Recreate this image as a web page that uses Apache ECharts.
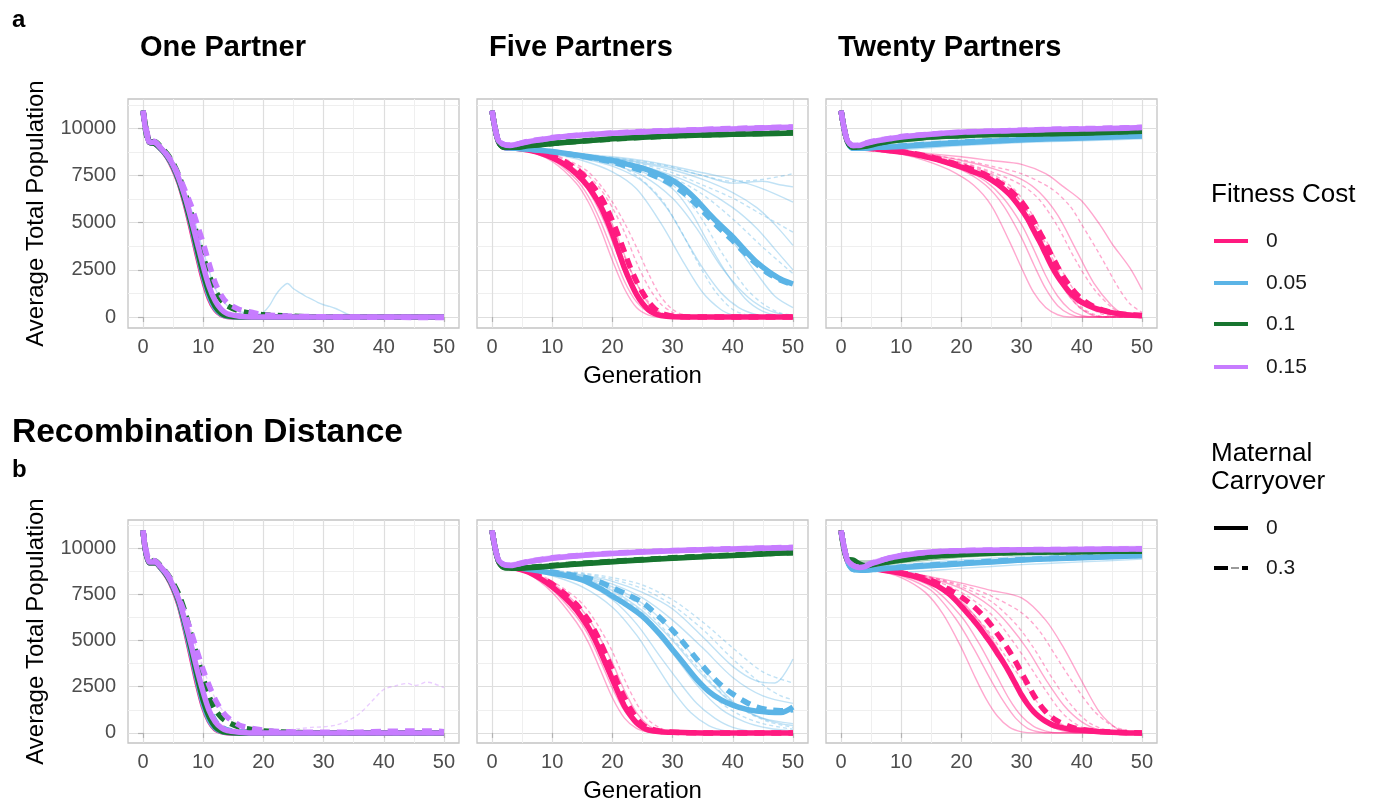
<!DOCTYPE html>
<html>
<head>
<meta charset="utf-8">
<script src="https://cdn.jsdelivr.net/npm/echarts@6/dist/echarts.min.js"></script>
<style>
html,body{margin:0;padding:0;background:#fff;}
#chart{width:1376px;height:805px;}
</style>
</head>
<body>
<div id="chart"></div>
<script>
// ---------- tick labels / categories ----------
const GEN_TICKS = [0, 10, 20, 30, 40, 50];
const GEN_MINOR = [5, 15, 25, 35, 45];
const POP_TICKS = [0, 2500, 5000, 7500, 10000];
const POP_MINOR = [1250, 3750, 6250, 8750, 11250];
const COLUMN_TITLES = ['One Partner', 'Five Partners', 'Twenty Partners'];
const FITNESS_COSTS = ['0', '0.05', '0.1', '0.15'];
const CARRYOVERS = ['0', '0.3'];

// ---------- a: One Partner (means, [generation, population]) ----------
const A1_PINK_C0 = [[0,10950],[1,9300],[2,9200],[3,8900],[4,8500],[5,7900],[6,7100],[7,6000],[8,4700],[9,3300],[10,2000],[11,1000],[12,400],[13,120],[14,30],[16,0],[50,0]];
const A1_PINK_C3 = [[0,10950],[1,9300],[2,9200],[3,8950],[4,8550],[5,8000],[6,7250],[7,6250],[8,5000],[9,3700],[10,2400],[11,1300],[12,600],[13,250],[14,100],[16,20],[18,0],[50,0]];
const A1_BLUE_C0 = [[0,10950],[1,9300],[2,9200],[3,8900],[4,8520],[5,7950],[6,7150],[7,6100],[8,4850],[9,3450],[10,2150],[11,1100],[12,450],[13,150],[14,40],[16,0],[50,0]];
const A1_BLUE_C3 = [[0,10950],[1,9300],[2,9250],[3,8950],[4,8580],[5,8050],[6,7300],[7,6300],[8,5100],[9,3800],[10,2500],[11,1400],[12,700],[13,300],[14,130],[16,40],[20,0],[50,0]];
const A1_GREEN_C0 = [[0,10950],[1,9300],[2,9200],[3,8920],[4,8540],[5,8000],[6,7200],[7,6150],[8,4950],[9,3600],[10,2300],[11,1250],[12,550],[13,200],[14,60],[16,10],[18,0],[50,0]];
const A1_GREEN_C3 = [[0,10950],[1,9300],[2,9300],[3,9000],[4,8650],[5,8150],[6,7450],[7,6550],[8,5500],[9,4300],[10,3200],[11,2200],[12,1400],[13,900],[14,600],[16,320],[18,200],[20,120],[24,50],[30,0],[50,0]];
const A1_PURPLE_C0 = [[0,10950],[1,9300],[2,9250],[3,8950],[4,8580],[5,8050],[6,7300],[7,6350],[8,5200],[9,3950],[10,2700],[11,1600],[12,850],[13,400],[14,170],[16,40],[18,0],[50,0]];
const A1_PURPLE_C3 = [[0,10950],[1,9400],[2,9300],[3,8950],[4,8600],[5,8100],[6,7450],[7,6700],[8,5900],[9,4900],[10,3900],[11,2800],[12,1800],[13,1150],[14,750],[16,400],[18,250],[20,120],[24,50],[30,10],[50,-30]];
const A1_BLUE_C0_REPS = [
  [[2,9200],[4,8600],[6,7400],[8,5700],[10,3500],[12,1500],[14,600],[16,300],[18,180],[19,150],[20,250],[21,600],[22,1150],[23,1550],[24,1780],[25,1500],[26,1300],[27,1100],[28,950],[29,780],[30,650],[31,560],[32,450],[33,300],[34,150],[35,50],[36,0],[50,0]]
];

// ---------- a: Five Partners ----------
const A2_PINK_C0 = [[0,10950],[1,9350],[2,9000],[4,8950],[6,8850],[8,8700],[10,8450],[12,8100],[14,7600],[16,6900],[18,5900],[19,5200],[20,4400],[21,3500],[22,2600],[23,1850],[24,1200],[25,720],[26,380],[27,180],[28,80],[30,15],[34,0],[50,0]];
const A2_PINK_C3 = [[0,10950],[1,9350],[2,9000],[4,8960],[6,8880],[8,8750],[10,8550],[12,8250],[14,7850],[16,7250],[18,6400],[19,5800],[20,5100],[21,4300],[22,3450],[23,2600],[24,1900],[25,1300],[26,800],[27,450],[28,230],[29,110],[30,50],[32,10],[35,0],[50,0]];
const A2_BLUE_C0 = [[0,10950],[1,9350],[2,9000],[4,8950],[6,8900],[8,8850],[10,8780],[14,8600],[18,8400],[20,8300],[22,8150],[25,7900],[28,7550],[30,7250],[32,6800],[34,6200],[36,5500],[38,4850],[40,4250],[42,3550],[44,2900],[46,2400],[48,2000],[50,1750]];
const A2_BLUE_C3 = [[0,10950],[1,9350],[2,9000],[4,8950],[6,8900],[8,8840],[10,8760],[14,8580],[18,8350],[20,8230],[22,8050],[25,7750],[28,7350],[30,7000],[32,6550],[34,5950],[36,5300],[38,4650],[40,4050],[42,3400],[44,2800],[46,2300],[48,1950],[50,1700]];
const A2_GREEN_C0 = [[0,10950],[1,9350],[2,9000],[4,9000],[6,9080],[10,9200],[15,9330],[20,9450],[25,9540],[30,9600],[35,9650],[40,9690],[45,9720],[50,9760]];
const A2_GREEN_C3 = [[0,10950],[1,9350],[2,9000],[4,9010],[6,9090],[10,9210],[15,9340],[20,9440],[25,9530],[30,9610],[35,9660],[40,9700],[45,9740],[50,9780]];
const A2_PURPLE_C0 = [[0,10950],[1,9400],[2,9150],[3,9100],[4,9150],[6,9300],[8,9400],[10,9500],[15,9650],[20,9750],[25,9820],[30,9880],[35,9930],[40,9980],[45,10030],[50,10070]];
const A2_PURPLE_C3 = [[0,10950],[1,9400],[2,9150],[3,9120],[4,9170],[6,9320],[8,9420],[10,9520],[15,9660],[20,9760],[25,9840],[30,9900],[35,9950],[40,10000],[45,10040],[50,10080]];
const A2_PINK_C0_REPS = [
  [[2,9000],[6,8800],[10,8250],[14,7100],[16,6100],[18,4700],[20,3000],[22,1500],[24,500],[26,100],[28,0],[50,0]],
  [[2,9000],[6,8880],[10,8500],[14,7800],[16,7100],[18,6100],[20,4900],[22,3300],[24,1800],[26,700],[28,200],[30,30],[32,0],[50,0]],
  [[2,9000],[6,8850],[10,8400],[14,7500],[16,6700],[18,5500],[20,4000],[22,2400],[24,1100],[26,400],[28,100],[30,0],[50,0]],
  [[2,9000],[6,8820],[10,8350],[14,7300],[16,6400],[18,5100],[20,3500],[22,1900],[24,800],[26,250],[28,50],[30,0],[50,0]]
];
const A2_PINK_C3_REPS = [
  [[2,9000],[6,8900],[10,8600],[14,8000],[16,7500],[18,6800],[20,5800],[22,4500],[24,2900],[26,1600],[28,700],[30,250],[32,50],[34,0],[50,0]],
  [[2,9000],[6,8880],[10,8500],[14,7700],[16,7000],[18,6000],[20,4700],[22,3200],[24,1800],[26,800],[28,250],[30,60],[32,0],[50,0]],
  [[2,9000],[6,8920],[10,8650],[14,8100],[16,7700],[18,7000],[20,6100],[22,5000],[24,3700],[26,2300],[28,1100],[30,400],[32,100],[34,0],[50,0]]
];
const A2_BLUE_C0_REPS = [
  [[2,9000],[6,8850],[10,8650],[15,8300],[20,7700],[24,6800],[28,5000],[32,2800],[35,1300],[38,400],[40,100],[42,0],[50,0]],
  [[2,9000],[6,8900],[10,8750],[15,8450],[20,8100],[25,7500],[30,6300],[34,4700],[38,2700],[42,1200],[45,500],[48,150],[50,50]],
  [[2,9000],[6,8920],[10,8800],[15,8600],[20,8450],[25,8200],[30,7900],[35,7500],[40,7100],[45,7200],[48,7000],[50,6900]],
  [[2,9000],[6,8900],[10,8780],[15,8550],[20,8350],[25,8000],[30,7500],[35,6800],[40,5800],[44,4700],[47,3600],[50,2500]],
  [[2,9000],[6,8880],[10,8700],[15,8450],[20,8200],[25,7700],[30,6800],[33,5600],[36,3900],[39,2300],[42,1000],[45,300],[48,50],[50,0]],
  [[2,9000],[6,8920],[10,8800],[15,8600],[20,8400],[25,8150],[30,7800],[35,7300],[40,6600],[44,5800],[47,4900],[50,3800]],
  [[2,9000],[6,8900],[10,8760],[15,8500],[20,8250],[25,7850],[30,7100],[35,5800],[40,4000],[44,2300],[47,1100],[50,500]],
  [[2,9000],[6,8850],[10,8700],[15,8400],[20,8000],[25,7200],[29,5800],[32,4200],[35,2600],[38,1300],[41,500],[44,120],[47,0],[50,0]],
  [[2,9000],[6,8930],[10,8820],[15,8650],[20,8500],[25,8300],[30,8000],[35,7650],[40,7300],[45,6800],[50,6100]]
];
const A2_BLUE_C3_REPS = [
  [[2,9000],[6,8900],[10,8750],[15,8500],[20,8300],[25,7850],[30,7000],[34,5600],[38,3500],[42,1600],[45,700],[48,200],[50,100]],
  [[2,9000],[6,8930],[10,8820],[15,8650],[20,8450],[25,8250],[30,7950],[35,7500],[40,7200],[45,7300],[50,7600]],
  [[2,9000],[6,8870],[10,8700],[15,8400],[20,8150],[24,7500],[28,6300],[31,4800],[34,3000],[37,1400],[40,400],[43,50],[45,0],[50,0]],
  [[2,9000],[6,8900],[10,8770],[15,8550],[20,8350],[25,8000],[30,7400],[35,6500],[40,5200],[45,3700],[50,2300]],
  [[2,9000],[6,8910],[10,8790],[15,8600],[20,8400],[25,8100],[30,7650],[35,7000],[40,6300],[45,5400],[50,4500]]
];
const A2_GREEN_C0_REPS = [
  [[2,9000],[6,9000],[10,9100],[15,9250],[20,9380],[25,9470],[30,9530],[35,9600],[40,9640],[45,9680],[50,9700]],
  [[2,9000],[6,9150],[10,9280],[15,9420],[20,9530],[25,9620],[30,9680],[35,9720],[40,9760],[45,9800],[50,9840]]
];
const A2_PURPLE_C0_REPS = [
  [[2,9150],[6,9380],[10,9600],[15,9750],[20,9850],[25,9920],[30,9970],[35,10020],[40,10060],[45,10120],[50,10160]],
  [[2,9150],[6,9220],[10,9420],[15,9560],[20,9660],[25,9740],[30,9800],[35,9860],[40,9900],[45,9950],[50,9990]]
];

// ---------- a: Twenty Partners ----------
const A3_PINK_C0 = [[0,10950],[1,9350],[2,9000],[4,8950],[6,8900],[8,8820],[10,8750],[12,8650],[14,8500],[16,8350],[18,8150],[20,7950],[22,7700],[24,7450],[26,7050],[28,6500],[30,5700],[31,5200],[32,4600],[33,4000],[34,3350],[35,2700],[36,2150],[37,1700],[38,1300],[39,1000],[40,780],[42,480],[44,300],[46,180],[48,110],[50,70]];
const A3_PINK_C3 = [[0,10950],[1,9350],[2,9000],[4,8960],[6,8910],[8,8840],[10,8770],[12,8680],[14,8550],[16,8400],[18,8220],[20,8020],[22,7800],[24,7550],[26,7200],[28,6750],[30,6100],[31,5650],[32,5100],[33,4500],[34,3900],[35,3250],[36,2650],[37,2100],[38,1650],[39,1250],[40,950],[42,550],[44,320],[46,190],[48,120],[50,80]];
const A3_BLUE_C0 = [[0,10950],[1,9350],[2,8950],[4,8950],[6,9000],[10,9050],[15,9150],[20,9250],[25,9320],[30,9400],[35,9450],[40,9500],[45,9550],[50,9600]];
const A3_BLUE_C3 = [[0,10950],[1,9350],[2,8950],[4,8960],[6,9010],[10,9070],[15,9170],[20,9270],[25,9350],[30,9420],[35,9480],[40,9530],[45,9580],[50,9630]];
const A3_GREEN_C0 = [[0,10950],[1,9350],[2,9000],[4,9050],[6,9200],[8,9320],[10,9400],[15,9550],[20,9620],[25,9680],[30,9700],[35,9720],[40,9750],[45,9800],[50,9850]];
const A3_GREEN_C3 = [[0,10950],[1,9350],[2,9000],[4,9070],[6,9220],[8,9340],[10,9420],[15,9560],[20,9640],[25,9690],[30,9720],[35,9740],[40,9770],[45,9820],[50,9870]];
const A3_PURPLE_C0 = [[0,10950],[1,9400],[2,9100],[3,9100],[4,9200],[6,9350],[8,9450],[10,9550],[15,9700],[20,9800],[25,9850],[30,9900],[35,9950],[40,9980],[45,10000],[50,10050]];
const A3_PURPLE_C3 = [[0,10950],[1,9400],[2,9100],[3,9120],[4,9220],[6,9370],[8,9470],[10,9570],[15,9710],[20,9810],[25,9860],[30,9910],[35,9960],[40,9990],[45,10020],[50,10060]];
const A3_PINK_C0_REPS = [
  [[2,9000],[6,8850],[10,8650],[14,8300],[18,7800],[22,7000],[25,5900],[28,4000],[30,2600],[32,1300],[34,500],[36,120],[38,0],[50,0]],
  [[2,9000],[6,8880],[10,8700],[15,8350],[20,7800],[24,7000],[27,5900],[30,4200],[32,2800],[34,1500],[36,600],[38,150],[40,0],[50,0]],
  [[2,9000],[6,8900],[10,8750],[15,8450],[20,8000],[25,7300],[29,6100],[32,4700],[35,2700],[37,1500],[39,700],[41,200],[43,0],[50,0]],
  [[2,9000],[6,8920],[10,8800],[15,8600],[20,8300],[25,7900],[30,7300],[33,6600],[36,5400],[39,3600],[42,1800],[45,600],[47,150],[49,0],[50,0]],
  [[2,9000],[6,8930],[10,8800],[20,8500],[25,8300],[30,8100],[34,7600],[37,6900],[40,6150],[43,4900],[45,3900],[48,2600],[50,1450]],
  [[2,9000],[6,8870],[10,8720],[15,8400],[20,7900],[24,7200],[27,6300],[30,4900],[32,3600],[34,2200],[36,1100],[38,400],[40,80],[42,0],[50,0]]
];
const A3_PINK_C3_REPS = [
  [[2,9000],[6,8900],[10,8750],[20,8050],[25,7400],[28,6800],[31,5600],[34,3900],[36,2500],[38,1300],[40,500],[42,150],[44,0],[50,0]],
  [[2,9000],[6,8920],[10,8800],[20,8200],[25,7700],[30,7000],[33,6200],[36,4800],[39,3000],[42,1500],[45,500],[47,150],[50,50]],
  [[2,9000],[6,8910],[10,8780],[20,8150],[25,7600],[29,6700],[32,5300],[35,3500],[37,2300],[39,1300],[41,600],[43,200],[45,50],[50,0]],
  [[2,9000],[6,8930],[10,8820],[20,8350],[25,8000],[30,7600],[35,6800],[38,5900],[40,4900],[43,3300],[46,1600],[48,700],[50,250]],
  [[2,9000],[6,8880],[10,8740],[20,8100],[25,7500],[29,6500],[32,5000],[34,3700],[36,2300],[38,1100],[40,400],[42,100],[44,0],[50,0]]
];
const A3_BLUE_C0_REPS = [
  [[2,8950],[10,8900],[20,9100],[30,9250],[40,9350],[50,9450]],
  [[2,8950],[10,9200],[20,9400],[30,9550],[40,9650],[50,9750]],
  [[2,8950],[10,9000],[20,9180],[30,9320],[40,9420],[50,9520]]
];
const A3_GREEN_C0_REPS = [
  [[2,9000],[6,9300],[10,9500],[20,9720],[30,9800],[40,9850],[50,9950]],
  [[2,9000],[6,9100],[10,9300],[20,9520],[30,9600],[40,9650],[50,9750]]
];
const A3_PURPLE_C0_REPS = [
  [[2,9100],[6,9450],[10,9650],[20,9900],[30,10000],[40,10080],[50,10150]],
  [[2,9100],[6,9250],[10,9450],[20,9700],[30,9800],[40,9880],[50,9950]]
];

// ---------- b: One Partner ----------
const B1_PINK_C0 = [[0,10950],[1,9200],[2,9200],[3,8900],[4,8450],[5,7800],[6,6900],[7,5600],[8,4150],[9,2700],[10,1450],[11,650],[12,220],[13,70],[14,15],[16,0],[50,0]];
const B1_PINK_C3 = [[0,10950],[1,9250],[2,9250],[3,8950],[4,8550],[5,7950],[6,7250],[7,6150],[8,4850],[9,3500],[10,2200],[11,1200],[12,600],[13,300],[14,150],[16,60],[20,20],[24,0],[50,0]];
const B1_BLUE_C0 = [[0,10950],[1,9200],[2,9200],[3,8900],[4,8480],[5,7850],[6,6980],[7,5700],[8,4300],[9,2850],[10,1550],[11,700],[12,250],[13,80],[14,20],[16,0],[50,0]];
const B1_BLUE_C3 = [[0,10950],[1,9250],[2,9250],[3,8950],[4,8570],[5,8000],[6,7300],[7,6250],[8,5000],[9,3650],[10,2350],[11,1300],[12,650],[13,320],[14,160],[16,70],[20,20],[24,0],[50,0]];
const B1_GREEN_C0 = [[0,10950],[1,9200],[2,9200],[3,8920],[4,8500],[5,7900],[6,7050],[7,5850],[8,4500],[9,3050],[10,1750],[11,850],[12,330],[13,110],[14,30],[16,0],[50,0]];
const B1_GREEN_C3 = [[0,10950],[1,9300],[2,9300],[3,9000],[4,8620],[5,8100],[6,7450],[7,6500],[8,5300],[9,4100],[10,2950],[11,1950],[12,1250],[13,850],[14,600],[16,320],[18,190],[20,110],[24,40],[30,0],[50,0]];
const B1_PURPLE_C0 = [[0,10950],[1,9250],[2,9250],[3,8950],[4,8550],[5,7950],[6,7150],[7,6000],[8,4750],[9,3400],[10,2200],[11,1200],[12,600],[13,280],[14,120],[16,40],[18,0],[50,0]];
const B1_PURPLE_C3 = [[0,10950],[1,9350],[2,9300],[3,8950],[4,8600],[5,8000],[6,7250],[7,6400],[8,5450],[9,4400],[10,3400],[11,2550],[12,1800],[13,1250],[14,850],[16,420],[18,250],[20,150],[24,60],[30,30],[36,40],[40,80],[44,100],[48,110],[50,60]];
const B1_PURPLE_C3_REPS = [
  [[2,9300],[4,8600],[6,7300],[8,5500],[10,3500],[12,1850],[14,900],[16,450],[18,280],[20,180],[22,150],[24,170],[26,230],[28,300],[30,330],[32,420],[34,650],[36,1050],[38,1700],[40,2350],[42,2550],[44,2680],[45,2560],[46,2620],[47,2750],[48,2700],[50,2450]]
];

// ---------- b: Five Partners ----------
const B2_PINK_C0 = [[0,10950],[1,9350],[2,9000],[4,8900],[6,8700],[8,8350],[10,7900],[12,7350],[14,6650],[16,5700],[17,5100],[18,4400],[19,3650],[20,2900],[21,2150],[22,1450],[23,950],[24,550],[25,300],[26,160],[28,60],[30,30],[35,0],[50,0]];
const B2_PINK_C3 = [[0,10950],[1,9350],[2,9000],[4,8920],[6,8750],[8,8450],[10,8050],[12,7550],[14,6950],[16,6100],[17,5550],[18,4900],[19,4150],[20,3400],[21,2600],[22,1900],[23,1300],[24,800],[25,450],[26,250],[28,90],[30,40],[35,0],[50,0]];
const B2_BLUE_C0 = [[0,10950],[1,9350],[2,9000],[4,8950],[6,8850],[8,8750],[10,8630],[12,8520],[15,8270],[18,7800],[20,7400],[22,7000],[25,6300],[28,5300],[30,4500],[32,3700],[34,2900],[36,2250],[38,1800],[40,1500],[42,1300],[44,1180],[46,1120],[48,1100],[50,1400]];
const B2_BLUE_C3 = [[0,10950],[1,9350],[2,9000],[4,8960],[6,8880],[8,8800],[10,8700],[12,8600],[15,8450],[18,8150],[20,7850],[22,7550],[25,7050],[28,6200],[30,5550],[32,4800],[34,4000],[36,3250],[38,2600],[40,2100],[42,1700],[44,1400],[46,1250],[48,1200],[50,1250]];
const B2_GREEN_C0 = [[0,10950],[1,9350],[2,8950],[4,8900],[6,8930],[10,9030],[15,9150],[20,9260],[25,9350],[30,9450],[35,9530],[40,9600],[45,9680],[50,9750]];
const B2_GREEN_C3 = [[0,10950],[1,9350],[2,8950],[4,8920],[6,8950],[10,9050],[15,9170],[20,9280],[25,9380],[30,9470],[35,9550],[40,9620],[45,9690],[50,9760]];
const B2_PURPLE_C0 = [[0,10950],[1,9400],[2,9100],[3,9050],[4,9100],[6,9250],[8,9350],[10,9450],[15,9600],[20,9700],[25,9780],[30,9850],[35,9900],[40,9950],[45,9990],[50,10020]];
const B2_PURPLE_C3 = [[0,10950],[1,9400],[2,9100],[3,9070],[4,9120],[6,9270],[8,9370],[10,9470],[15,9620],[20,9720],[25,9800],[30,9860],[35,9910],[40,9960],[45,10000],[50,10040]];
const B2_PINK_C0_REPS = [
  [[2,9000],[6,8600],[10,7600],[14,6000],[16,4900],[18,3400],[20,1900],[22,800],[24,250],[26,50],[28,0],[50,0]],
  [[2,9000],[6,8750],[10,8100],[14,7000],[16,6200],[18,5100],[20,3800],[22,2300],[24,1100],[26,400],[28,100],[30,0],[50,0]],
  [[2,9000],[6,8650],[10,7750],[14,6300],[16,5300],[18,3900],[20,2400],[22,1200],[24,450],[26,120],[28,0],[50,0]]
];
const B2_PINK_C3_REPS = [
  [[2,9000],[6,8800],[10,8200],[14,7300],[16,6600],[18,5600],[20,4400],[22,2900],[24,1600],[26,700],[28,250],[30,60],[32,0],[50,0]],
  [[2,9000],[6,8700],[10,7950],[14,6700],[16,5800],[18,4500],[20,3000],[22,1700],[24,700],[26,200],[28,30],[30,0],[50,0]]
];
const B2_BLUE_C0_REPS = [
  [[2,9000],[6,8800],[10,8500],[15,7900],[20,6800],[24,5300],[27,3800],[30,2300],[33,1100],[36,400],[39,100],[42,0],[50,0]],
  [[2,9000],[6,8850],[10,8650],[15,8300],[20,7500],[25,6200],[30,4300],[34,2600],[38,1300],[42,600],[46,250],[50,100]],
  [[2,9000],[6,8900],[10,8750],[15,8550],[20,8200],[25,7600],[30,6700],[35,5200],[40,3600],[44,2800],[47,2700],[50,4000]],
  [[2,9000],[6,8880],[10,8700],[15,8450],[20,7900],[25,7000],[30,5500],[35,3500],[40,1700],[44,900],[48,500],[50,400]],
  [[2,9000],[6,8820],[10,8600],[15,8150],[20,7200],[24,5900],[28,4100],[31,2800],[34,1600],[37,800],[40,300],[44,50],[50,0]],
  [[2,9000],[6,8900],[10,8720],[15,8500],[20,8050],[25,7300],[30,6100],[35,4600],[40,3000],[45,2000],[50,1600]],
  [[2,9000],[6,8860],[10,8680],[15,8350],[20,7700],[25,6600],[30,5000],[35,3100],[40,1600],[45,800],[50,500]]
];
const B2_BLUE_C3_REPS = [
  [[2,9000],[6,8920],[10,8750],[15,8600],[20,8300],[25,7800],[30,6900],[35,5600],[40,4000],[45,2600],[48,2000],[50,1800]],
  [[2,9000],[6,8880],[10,8700],[15,8400],[20,7800],[25,6800],[30,5100],[34,3600],[38,2200],[42,1200],[46,600],[50,300]],
  [[2,9000],[6,8860],[10,8650],[15,8300],[20,7600],[25,6500],[29,5000],[33,3300],[37,1900],[41,1000],[45,500],[50,200]],
  [[2,9000],[6,8930],[10,8780],[15,8650],[20,8400],[25,8000],[30,7200],[35,6000],[40,4600],[45,3300],[50,2700]]
];
const B2_GREEN_C0_REPS = [
  [[2,8950],[6,8850],[10,8950],[15,9050],[20,9150],[25,9250],[30,9350],[40,9500],[50,9650]],
  [[2,8950],[6,9050],[10,9150],[15,9280],[20,9380],[25,9480],[30,9560],[40,9700],[50,9820]]
];
const B2_PURPLE_C0_REPS = [
  [[2,9100],[6,9380],[10,9580],[15,9720],[20,9820],[25,9900],[30,9960],[40,10060],[50,10120]],
  [[2,9100],[6,9180],[10,9350],[15,9500],[20,9600],[25,9680],[30,9750],[40,9850],[50,9930]]
];

// ---------- b: Twenty Partners ----------
const B3_PINK_C0 = [[0,10950],[1,9350],[2,8950],[4,8900],[6,8850],[8,8750],[10,8630],[12,8480],[14,8250],[16,7950],[18,7500],[20,6850],[22,6100],[23,5700],[24,5250],[25,4800],[26,4300],[27,3800],[28,3250],[29,2650],[30,2050],[31,1550],[32,1150],[33,850],[34,620],[35,450],[36,340],[38,200],[40,140],[42,90],[44,50],[46,20],[48,0],[50,0]];
const B3_PINK_C3 = [[0,10950],[1,9350],[2,8950],[4,8910],[6,8870],[8,8780],[10,8670],[12,8530],[14,8350],[16,8100],[18,7750],[20,7350],[22,6850],[24,6200],[25,5800],[26,5350],[27,4900],[28,4400],[29,3850],[30,3250],[31,2650],[32,2050],[33,1550],[34,1150],[35,850],[36,630],[38,340],[40,180],[42,100],[44,60],[46,30],[50,0]];
const B3_BLUE_C0 = [[0,10950],[1,9350],[2,8850],[4,8800],[6,8850],[10,8950],[15,9050],[20,9150],[25,9250],[30,9350],[35,9420],[40,9480],[45,9530],[50,9580]];
const B3_BLUE_C3 = [[0,10950],[1,9350],[2,8850],[4,8820],[6,8870],[10,8970],[15,9080],[20,9180],[25,9280],[30,9370],[35,9440],[40,9500],[45,9560],[50,9610]];
const B3_GREEN_C0 = [[0,10950],[1,9400],[2,9350],[3,9150],[4,9050],[6,9150],[8,9250],[10,9350],[15,9550],[20,9650],[25,9720],[30,9760],[35,9780],[40,9800],[45,9820],[50,9830]];
const B3_GREEN_C3 = [[0,10950],[1,9400],[2,9300],[3,9120],[4,9060],[6,9170],[8,9270],[10,9370],[15,9560],[20,9670],[25,9730],[30,9770],[35,9790],[40,9810],[45,9830],[50,9840]];
const B3_PURPLE_C0 = [[0,10950],[1,9400],[2,9050],[3,8950],[4,9000],[5,9150],[6,9250],[8,9450],[10,9580],[12,9680],[15,9780],[20,9850],[25,9880],[30,9900],[40,9920],[50,9950]];
const B3_PURPLE_C3 = [[0,10950],[1,9400],[2,9050],[3,8970],[4,9020],[5,9170],[6,9270],[8,9470],[10,9600],[12,9700],[15,9790],[20,9860],[25,9890],[30,9910],[40,9930],[50,9960]];
const B3_PINK_C0_REPS = [
  [[2,8950],[6,8800],[10,8400],[14,7600],[17,6400],[20,4600],[22,3200],[24,1900],[26,900],[28,300],[30,60],[32,0],[50,0]],
  [[2,8950],[6,8830],[10,8550],[15,7900],[20,6300],[23,4800],[26,3000],[28,1800],[30,900],[32,350],[34,100],[36,0],[50,0]],
  [[2,8950],[6,8850],[10,8650],[15,8150],[20,7100],[24,5600],[27,4000],[30,2200],[32,1200],[34,550],[36,200],[38,50],[40,0],[50,0]],
  [[2,8950],[6,8870],[10,8700],[15,8350],[20,7800],[25,6800],[28,5800],[31,4500],[34,2900],[37,1500],[40,600],[43,150],[46,0],[50,0]],
  [[2,8950],[6,8880],[10,8750],[20,8100],[25,7700],[30,7300],[34,6100],[37,4600],[40,2800],[43,1100],[46,200],[48,0],[50,0]],
  [[2,8950],[6,8820],[10,8500],[15,7700],[19,6200],[22,4600],[25,2800],[27,1700],[29,800],[31,250],[33,50],[35,0],[50,0]]
];
const B3_PINK_C3_REPS = [
  [[2,8950],[6,8860],[10,8700],[15,8300],[20,7600],[25,6400],[28,5200],[31,3800],[34,2300],[37,1000],[40,300],[43,50],[45,0],[50,0]],
  [[2,8950],[6,8870],[10,8720],[15,8400],[20,7900],[25,7100],[29,5900],[32,4600],[35,3000],[38,1600],[41,600],[44,150],[47,0],[50,0]],
  [[2,8950],[6,8840],[10,8600],[15,8100],[20,7000],[24,5700],[27,4300],[30,2900],[33,1500],[36,600],[39,150],[42,0],[50,0]],
  [[2,8950],[6,8880],[10,8750],[20,8000],[25,7400],[30,6500],[33,5500],[36,4000],[39,2500],[42,1200],[45,400],[48,80],[50,0]]
];
const B3_BLUE_C0_REPS = [
  [[2,8850],[10,8700],[20,8900],[30,9100],[40,9250],[50,9400]],
  [[2,8850],[10,9100],[20,9350],[30,9550],[40,9650],[50,9750]],
  [[2,8850],[10,8850],[20,9050],[30,9250],[40,9380],[50,9500]]
];
const B3_GREEN_C0_REPS = [
  [[2,9300],[6,9300],[10,9500],[20,9780],[30,9850],[40,9900],[50,9950]],
  [[2,9300],[6,9050],[10,9200],[20,9500],[30,9650],[40,9700],[50,9720]]
];
const B3_PURPLE_C0_REPS = [
  [[2,9050],[6,9400],[10,9700],[20,9950],[30,10000],[40,10050],[50,10080]],
  [[2,9050],[6,9120],[10,9450],[20,9750],[30,9800],[40,9820],[50,9850]]
];

// ---------- styling constants ----------
const COLORS = ['#ff1a80', '#5bb4e6', '#17752f', '#c77cff'];
const FONT = "'Liberation Sans', Arial, Helvetica, sans-serif";
const COL_LEFT = [128, 477, 826];
const ROW_TOP = [99, 520];
const ROW_H = [229, 223];
const ROW_YMIN = [-584, -545];
const ROW_YMAX = [11565, 11515];
const PANEL_W = 331;
const NONE = [];

const PANELS = [
  { row: 0, col: 0,
    means: [[A1_PINK_C0, A1_PINK_C3], [A1_BLUE_C0, A1_BLUE_C3], [A1_GREEN_C0, A1_GREEN_C3], [A1_PURPLE_C0, A1_PURPLE_C3]],
    reps:  [[NONE, NONE], [A1_BLUE_C0_REPS, NONE], [NONE, NONE], [NONE, NONE]] },
  { row: 0, col: 1,
    means: [[A2_PINK_C0, A2_PINK_C3], [A2_BLUE_C0, A2_BLUE_C3], [A2_GREEN_C0, A2_GREEN_C3], [A2_PURPLE_C0, A2_PURPLE_C3]],
    reps:  [[A2_PINK_C0_REPS, A2_PINK_C3_REPS], [A2_BLUE_C0_REPS, A2_BLUE_C3_REPS], [A2_GREEN_C0_REPS, NONE], [A2_PURPLE_C0_REPS, NONE]] },
  { row: 0, col: 2,
    means: [[A3_PINK_C0, A3_PINK_C3], [A3_BLUE_C0, A3_BLUE_C3], [A3_GREEN_C0, A3_GREEN_C3], [A3_PURPLE_C0, A3_PURPLE_C3]],
    reps:  [[A3_PINK_C0_REPS, A3_PINK_C3_REPS], [A3_BLUE_C0_REPS, NONE], [A3_GREEN_C0_REPS, NONE], [A3_PURPLE_C0_REPS, NONE]] },
  { row: 1, col: 0,
    means: [[B1_PINK_C0, B1_PINK_C3], [B1_BLUE_C0, B1_BLUE_C3], [B1_GREEN_C0, B1_GREEN_C3], [B1_PURPLE_C0, B1_PURPLE_C3]],
    reps:  [[NONE, NONE], [NONE, NONE], [NONE, NONE], [NONE, B1_PURPLE_C3_REPS]] },
  { row: 1, col: 1,
    means: [[B2_PINK_C0, B2_PINK_C3], [B2_BLUE_C0, B2_BLUE_C3], [B2_GREEN_C0, B2_GREEN_C3], [B2_PURPLE_C0, B2_PURPLE_C3]],
    reps:  [[B2_PINK_C0_REPS, B2_PINK_C3_REPS], [B2_BLUE_C0_REPS, B2_BLUE_C3_REPS], [B2_GREEN_C0_REPS, NONE], [B2_PURPLE_C0_REPS, NONE]] },
  { row: 1, col: 2,
    means: [[B3_PINK_C0, B3_PINK_C3], [B3_BLUE_C0, B3_BLUE_C3], [B3_GREEN_C0, B3_GREEN_C3], [B3_PURPLE_C0, B3_PURPLE_C3]],
    reps:  [[B3_PINK_C0_REPS, B3_PINK_C3_REPS], [B3_BLUE_C0_REPS, NONE], [B3_GREEN_C0_REPS, NONE], [B3_PURPLE_C0_REPS, NONE]] }
];

const grids = [], xAxes = [], yAxes = [], series = [];
PANELS.forEach((pn, p) => {
  const leftCol = pn.col === 0;
  grids.push({
    left: COL_LEFT[pn.col], top: ROW_TOP[pn.row], width: PANEL_W, height: ROW_H[pn.row],
    show: true, borderColor: '#c4c4c4', borderWidth: 1.3, backgroundColor: '#ffffff'
  });
  xAxes.push({
    gridIndex: p, type: 'value', min: -2.5, max: 52.5, position: 'bottom',
    axisLine: { show: false },
    axisTick: { show: true, length: 5, lineStyle: { color: '#b3b3b3', width: 1.2 }, customValues: GEN_TICKS },
    axisLabel: { customValues: GEN_TICKS, color: '#4d4d4d', fontSize: 20, margin: 9, fontFamily: FONT, formatter: v => String(v) },
    splitLine: { show: true, lineStyle: { color: '#dedede', width: 1.2 } },
    name: pn.col === 1 ? 'Generation' : '', nameLocation: 'middle', nameGap: 36,
    nameTextStyle: { fontSize: 24, color: '#000', fontFamily: FONT }
  });
  xAxes.push({
    gridIndex: p, type: 'value', min: -2.5, max: 52.5, position: 'top',
    axisLine: { show: false },
    axisTick: { show: false, customValues: GEN_MINOR },
    axisLabel: { show: false, customValues: GEN_MINOR },
    splitLine: { show: true, lineStyle: { color: '#efefef', width: 1 } }
  });
  yAxes.push({
    gridIndex: p, type: 'value', min: ROW_YMIN[pn.row], max: ROW_YMAX[pn.row], position: 'left',
    axisLine: { show: false },
    axisTick: { show: leftCol, length: 5, lineStyle: { color: '#b3b3b3', width: 1.2 }, customValues: POP_TICKS },
    axisLabel: { show: leftCol, customValues: POP_TICKS, color: '#4d4d4d', fontSize: 20, margin: 12, fontFamily: FONT, formatter: v => String(v) },
    splitLine: { show: true, lineStyle: { color: '#dedede', width: 1.2 } },
    name: leftCol ? 'Average Total Population' : '', nameLocation: 'middle', nameGap: 80, nameRotate: 90,
    nameTextStyle: { fontSize: 24, color: '#000', fontFamily: FONT }
  });
  yAxes.push({
    gridIndex: p, type: 'value', min: ROW_YMIN[pn.row], max: ROW_YMAX[pn.row], position: 'right',
    axisLine: { show: false },
    axisTick: { show: false, customValues: POP_MINOR },
    axisLabel: { show: false, customValues: POP_MINOR },
    splitLine: { show: true, lineStyle: { color: '#efefef', width: 1 } }
  });
});

function lineSeries(p, data, color, carryIdx, width, opacity, thin) {
  return {
    type: 'line', xAxisIndex: 2 * p, yAxisIndex: 2 * p, data: data,
    symbol: 'none', showSymbol: false, smooth: 0.3, silent: true, clip: true,
    lineStyle: {
      color: color, width: width, opacity: opacity, cap: 'butt', join: 'round',
      type: carryIdx === 0 ? 'solid' : (thin ? [4, 3] : [10, 7])
    },
    emphasis: { disabled: true }
  };
}
// replicate runs (thin, translucent) first
PANELS.forEach((pn, p) => {
  pn.reps.forEach((pair, ci) => pair.forEach((reps, mi) => reps.forEach(r => {
    series.push(lineSeries(p, r, COLORS[ci], mi, 1.4, 0.38, true));
  })));
});
// mean lines (thick) on top, ordered by fitness cost
PANELS.forEach((pn, p) => {
  pn.means.forEach((pair, ci) => pair.forEach((d, mi) => {
    series.push(lineSeries(p, d, COLORS[ci], mi, 5.5, 1, false));
  }));
});

const TITLE_STYLE = { fontWeight: 'bold', color: '#000', fontFamily: FONT };
const titles = [
  { text: 'a', left: 12, top: 8, padding: 0, textStyle: Object.assign({ fontSize: 24 }, TITLE_STYLE) },
  { text: 'Recombination Distance', left: 12, top: 416, padding: 0, textStyle: Object.assign({ fontSize: 33.5 }, TITLE_STYLE) },
  { text: 'b', left: 12, top: 458, padding: 0, textStyle: Object.assign({ fontSize: 24 }, TITLE_STYLE) }
];
COLUMN_TITLES.forEach((t, i) => {
  titles.push({ text: t, left: COL_LEFT[i] + 12, top: 33, padding: 0, textStyle: Object.assign({ fontSize: 29 }, TITLE_STYLE) });
});

// legend drawn as graphics
const LEG_X = 1214, LEG_LINE_W = 34, LEG_TEXT_X = 1266;
const COST_Y = [241, 283, 324, 367];
const CARRY_Y = [528, 568];
const graphics = [
  { type: 'text', left: 1211, top: 182, style: { text: 'Fitness Cost', fontSize: 26, fill: '#000', fontFamily: FONT } },
  { type: 'text', left: 1211, top: 441, style: { text: 'Maternal', fontSize: 26, fill: '#000', fontFamily: FONT } },
  { type: 'text', left: 1211, top: 469, style: { text: 'Carryover', fontSize: 26, fill: '#000', fontFamily: FONT } }
];
FITNESS_COSTS.forEach((c, i) => {
  graphics.push({ type: 'line', shape: { x1: LEG_X, y1: COST_Y[i], x2: LEG_X + LEG_LINE_W, y2: COST_Y[i] }, style: { stroke: COLORS[i], lineWidth: 4 } });
  graphics.push({ type: 'text', x: LEG_TEXT_X, y: COST_Y[i], style: { text: c, fontSize: 21, fill: '#1a1a1a', fontFamily: FONT, textVerticalAlign: 'middle', verticalAlign: 'middle' } });
});
CARRYOVERS.forEach((c, i) => {
  if (i === 0) {
    graphics.push({ type: 'line', shape: { x1: LEG_X, y1: CARRY_Y[i], x2: LEG_X + LEG_LINE_W, y2: CARRY_Y[i] }, style: { stroke: '#000', lineWidth: 4 } });
  } else {
    graphics.push({ type: 'line', shape: { x1: LEG_X, y1: CARRY_Y[i], x2: LEG_X + 14, y2: CARRY_Y[i] }, style: { stroke: '#000', lineWidth: 4 } });
    graphics.push({ type: 'line', shape: { x1: LEG_X + 17, y1: CARRY_Y[i], x2: LEG_X + 25, y2: CARRY_Y[i] }, style: { stroke: '#9a9a9a', lineWidth: 2 } });
    graphics.push({ type: 'line', shape: { x1: LEG_X + 28, y1: CARRY_Y[i], x2: LEG_X + LEG_LINE_W, y2: CARRY_Y[i] }, style: { stroke: '#000', lineWidth: 4 } });
  }
  graphics.push({ type: 'text', x: LEG_TEXT_X, y: CARRY_Y[i], style: { text: c, fontSize: 21, fill: '#1a1a1a', fontFamily: FONT, textVerticalAlign: 'middle', verticalAlign: 'middle' } });
});

const chart = echarts.init(document.getElementById('chart'), null, { renderer: 'canvas' });
chart.setOption({
  backgroundColor: '#ffffff',
  animation: false,
  textStyle: { fontFamily: FONT },
  title: titles,
  grid: grids,
  xAxis: xAxes,
  yAxis: yAxes,
  series: series,
  graphic: graphics
});
</script>
</body>
</html>
